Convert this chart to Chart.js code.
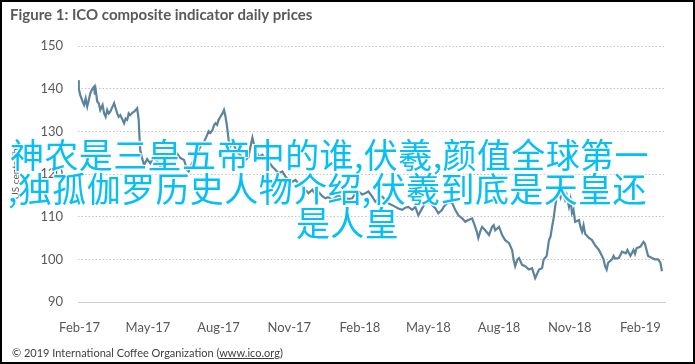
<!DOCTYPE html>
<html>
<head>
<meta charset="utf-8">
<script src="https://cdn.jsdelivr.net/npm/chart.js@4.4.1/dist/chart.umd.min.js"></script>
<style>
  html, body { margin: 0; padding: 0; background: #fff; }
  #wrap { position: relative; width: 695px; height: 364px; overflow: hidden; }
  #frame { position: absolute; left: 0; top: 0; width: 695px; height: 364px; box-sizing: border-box; border: 2px solid #000; pointer-events: none; }
  .over { position: absolute; font-family: "Noto Sans CJK SC", sans-serif; font-size: 34px; letter-spacing: 0.4px; line-height: 34px; color: #06bff4; white-space: nowrap;
          text-shadow: 0 0 2px #fff, 1px 1px 1px #fff, -1px -1px 1px #fff, 1px -1px 1px #fff, -1px 1px 1px #fff; }
  #copy { position: absolute; left: 12px; top: 346px; font: 11px Lato, sans-serif; color: #404040; }
  #copy u { text-decoration: underline; }
</style>
</head>
<body>
<div id="wrap">
  <canvas id="myChart" width="695" height="364"></canvas>
  <div class="over" style="left:10px; top:137px;">神农是三皇五帝中的谁,伏羲,颜值全球第一</div>
  <div class="over" style="left:8px; top:171px;">,独孤伽罗历史人物介绍,伏羲到底是天皇还</div>
  <div class="over" style="left:0; width:695px; text-align:center; top:205px;">是人皇</div>
  <div id="copy">© 2019 International Coffee Organization (<u>www.ico.org</u>)</div>
  <div id="frame"></div>
</div>
<script>
// 날짜별 ICO 복합지표 가격 (US cents/lb), 그림에서 읽은 값
const dates = [
  '2017-01-30','2017-01-31','2017-02-02','2017-02-05','2017-02-07','2017-02-09','2017-02-11','2017-02-13','2017-02-15','2017-02-18',
  '2017-02-20','2017-02-21','2017-02-22','2017-02-24','2017-02-26','2017-02-28','2017-03-03','2017-03-05','2017-03-07','2017-03-09',
  '2017-03-11','2017-03-13','2017-03-16','2017-03-18','2017-03-20','2017-03-22','2017-03-24','2017-03-26','2017-03-29','2017-03-31',
  '2017-04-02','2017-04-04','2017-04-06','2017-04-08','2017-04-11','2017-04-13','2017-04-15','2017-04-17','2017-04-19','2017-04-20',
  '2017-04-21','2017-04-24','2017-04-26','2017-04-30','2017-05-04','2017-05-09','2017-05-13','2017-05-17','2017-05-22','2017-05-26',
  '2017-05-30','2017-06-04','2017-06-08','2017-06-12','2017-06-17','2017-06-21','2017-06-23','2017-06-25','2017-06-30','2017-07-04',
  '2017-07-08','2017-07-13','2017-07-17','2017-07-19','2017-07-21','2017-07-24','2017-07-26','2017-07-28','2017-07-30','2017-08-01',
  '2017-08-03','2017-08-06','2017-08-08','2017-08-10','2017-08-12','2017-08-14','2017-08-16','2017-08-19','2017-08-23','2017-08-27',
  '2017-09-01','2017-09-05','2017-09-09','2017-09-11','2017-09-14','2017-09-16','2017-09-18','2017-09-22','2017-09-27','2017-10-01',
  '2017-10-05','2017-10-10','2017-10-14','2017-10-18','2017-10-23','2017-10-27','2017-10-31','2017-11-05','2017-11-09','2017-11-13',
  '2017-11-18','2017-11-22','2017-11-26','2017-12-01','2017-12-05','2017-12-09','2017-12-14','2017-12-18','2017-12-22','2017-12-27',
  '2017-12-31','2018-01-04','2018-01-09','2018-01-13','2018-01-17','2018-01-22','2018-01-26','2018-01-30','2018-02-04','2018-02-08',
  '2018-02-12','2018-02-17','2018-02-21','2018-02-25','2018-03-02','2018-03-06','2018-03-10','2018-03-15','2018-03-19','2018-03-23',
  '2018-03-28','2018-04-01','2018-04-05','2018-04-10','2018-04-14','2018-04-18','2018-04-23','2018-04-27','2018-05-01','2018-05-06',
  '2018-05-10','2018-05-14','2018-05-19','2018-05-21','2018-05-25','2018-05-29','2018-06-01','2018-06-05','2018-06-09','2018-06-14',
  '2018-06-18','2018-06-22','2018-06-27','2018-07-01','2018-07-03','2018-07-05','2018-07-08','2018-07-10','2018-07-14','2018-07-19',
  '2018-07-23','2018-07-25','2018-07-27','2018-08-01','2018-08-05','2018-08-09','2018-08-14','2018-08-18','2018-08-20','2018-08-22',
  '2018-08-25','2018-08-27','2018-08-31','2018-09-04','2018-09-09','2018-09-13','2018-09-17','2018-09-22','2018-09-26','2018-09-28',
  '2018-10-02','2018-10-05','2018-10-07','2018-10-09','2018-10-11','2018-10-13','2018-10-15','2018-10-18','2018-10-20','2018-10-22',
  '2018-10-24','2018-10-26','2018-10-28','2018-10-31','2018-11-02','2018-11-04','2018-11-06','2018-11-08','2018-11-13','2018-11-15',
  '2018-11-17','2018-11-19','2018-11-21','2018-11-26','2018-11-30','2018-12-04','2018-12-09','2018-12-13','2018-12-15','2018-12-17',
  '2018-12-19','2018-12-21','2018-12-26','2018-12-28','2018-12-30','2019-01-04','2019-01-08','2019-01-13','2019-01-15','2019-01-19',
  '2019-01-23','2019-01-25','2019-01-27','2019-02-01','2019-02-05','2019-02-07','2019-02-09','2019-02-11','2019-02-16','2019-02-20',
  '2019-02-24','2019-02-27','2019-03-01'
];
const prices = [
  142.0,140.0,138.5,137.0,136.2,137.7,135.8,137.3,138.9,140.1,
  140.5,138.6,139.7,137.0,136.6,135.0,136.2,134.2,133.4,135.0,
  134.2,134.6,135.8,136.6,135.4,134.2,133.4,133.8,132.7,131.9,
  133.0,132.7,134.2,133.8,134.4,134.6,135.0,135.4,132.7,128.7,
  125.6,123.3,122.1,123.5,122.5,124.0,123.0,121.8,122.8,124.2,
  123.7,124.5,124.8,123.8,123.3,121.0,120.6,121.7,123.3,124.5,
  126.4,127.5,129.1,130.0,129.6,130.3,131.4,131.9,131.5,132.7,
  133.3,134.2,135.0,133.4,131.1,128.0,126.4,127.5,126.0,124.8,
  124.0,123.3,124.0,126.0,128.5,127.0,126.0,124.0,124.5,123.3,
  122.9,121.7,121.0,120.2,120.6,119.4,118.6,118.2,118.6,117.8,
  117.2,116.3,115.5,116.3,115.2,115.8,114.8,114.3,114.6,113.9,
  114.5,115.1,113.9,114.5,114.1,114.3,115.5,115.9,115.2,115.5,
  115.9,114.7,113.5,114.2,114.7,113.9,113.1,112.7,112.3,111.9,
  111.6,112.1,112.3,111.6,112.3,110.3,112.0,113.1,113.5,112.7,
  112.0,110.8,111.6,112.3,113.1,113.5,113.2,111.6,110.3,109.6,
  108.8,109.2,109.6,107.6,106.5,105.0,106.8,107.6,106.8,105.7,
  107.6,108.0,106.8,107.6,105.7,104.5,103.8,102.2,99.9,98.4,
  100.0,100.3,98.7,98.4,97.6,97.9,95.6,97.6,97.9,99.9,
  100.8,104.5,105.3,107.6,109.6,112.3,114.7,115.5,114.5,116.3,
  114.9,113.9,115.0,112.3,114.0,110.8,111.6,108.8,109.2,107.6,
  106.5,108.0,106.0,105.0,104.5,103.3,102.2,100.8,100.0,98.4,
  97.6,99.2,100.0,100.8,100.2,100.3,101.8,101.4,102.2,100.8,
  102.2,101.3,102.6,103.0,104.1,103.6,102.2,100.8,100.3,100.0,
  100.0,99.2,97.2
];
// 축 눈금
const tickDates = ['2017-02-01','2017-05-01','2017-08-01','2017-11-01','2018-02-01','2018-05-01','2018-08-01','2018-11-01','2019-02-01'];
const tickLabels = ['Feb-17','May-17','Aug-17','Nov-17','Feb-18','May-18','Aug-18','Nov-18','Feb-19'];
const yTicks = [90, 100, 110, 120, 130, 140, 150];

const base = Date.parse('2017-02-01');
const toDay = d => (Date.parse(d) - base) / 864e5;
const tickDays = tickDates.map(toDay);

const ctx = document.getElementById('myChart').getContext('2d');
new Chart(ctx, {
    type: 'line',
    data: {
        datasets: [{
            label: 'ICO composite indicator',
            data: dates.map((d, i) => ({ x: toDay(d), y: prices[i] })),
            borderColor: '#5b839b',
            borderWidth: 2.2,
            pointRadius: 0,
            fill: false,
            tension: 0,
        }],
    },
    options: {
        responsive: false,
        animation: false,
        layout: { padding: { left: 10, right: 30, top: 0, bottom: 0 } },
        plugins: {
            legend: { display: false },
            tooltip: { enabled: false },
            title: {
                display: true,
                text: 'Figure 1: ICO composite indicator daily prices',
                align: 'start',
                color: '#595959',
                font: { family: 'Lato', size: 15 },
                padding: { top: 6, bottom: 22 },
            },
        },
        scales: {
            x: {
                type: 'linear',
                min: -2,
                max: 762,
                afterBuildTicks: s => { s.ticks = tickDays.map(v => ({ value: v })); },
                afterFit: s => { s.height = 62; },
                ticks: {
                    autoSkip: false,
                    maxRotation: 0,
                    padding: 18,
                    color: '#595959',
                    font: { family: 'Lato', size: 13 },
                    callback: (v, i) => tickLabels[i],
                },
                grid: { drawOnChartArea: false, drawTicks: false },
                border: { display: true, color: '#d0d0d0', width: 1 },
            },
            y: {
                min: 90,
                max: 150,
                afterBuildTicks: s => { s.ticks = yTicks.map(v => ({ value: v })); },
                afterFit: s => { s.width = 68; },
                ticks: {
                    padding: 15,
                    color: '#595959',
                    font: { family: 'Lato', size: 13 },
                },
                grid: {
                    drawTicks: false,
                    lineWidth: 1,
                    color: c => (c.tick && c.tick.value === 90 ? 'rgba(0,0,0,0)' : '#c4c4c4'),
                },
                border: { display: false, dash: [1.5, 2] },
                title: {
                    display: true,
                    text: 'US cents/lb',
                    color: '#595959',
                    font: { family: 'Lato', size: 10 },
                    padding: { top: 0, bottom: 0 },
                },
            },
        },
    },
});
</script>
</body>
</html>
